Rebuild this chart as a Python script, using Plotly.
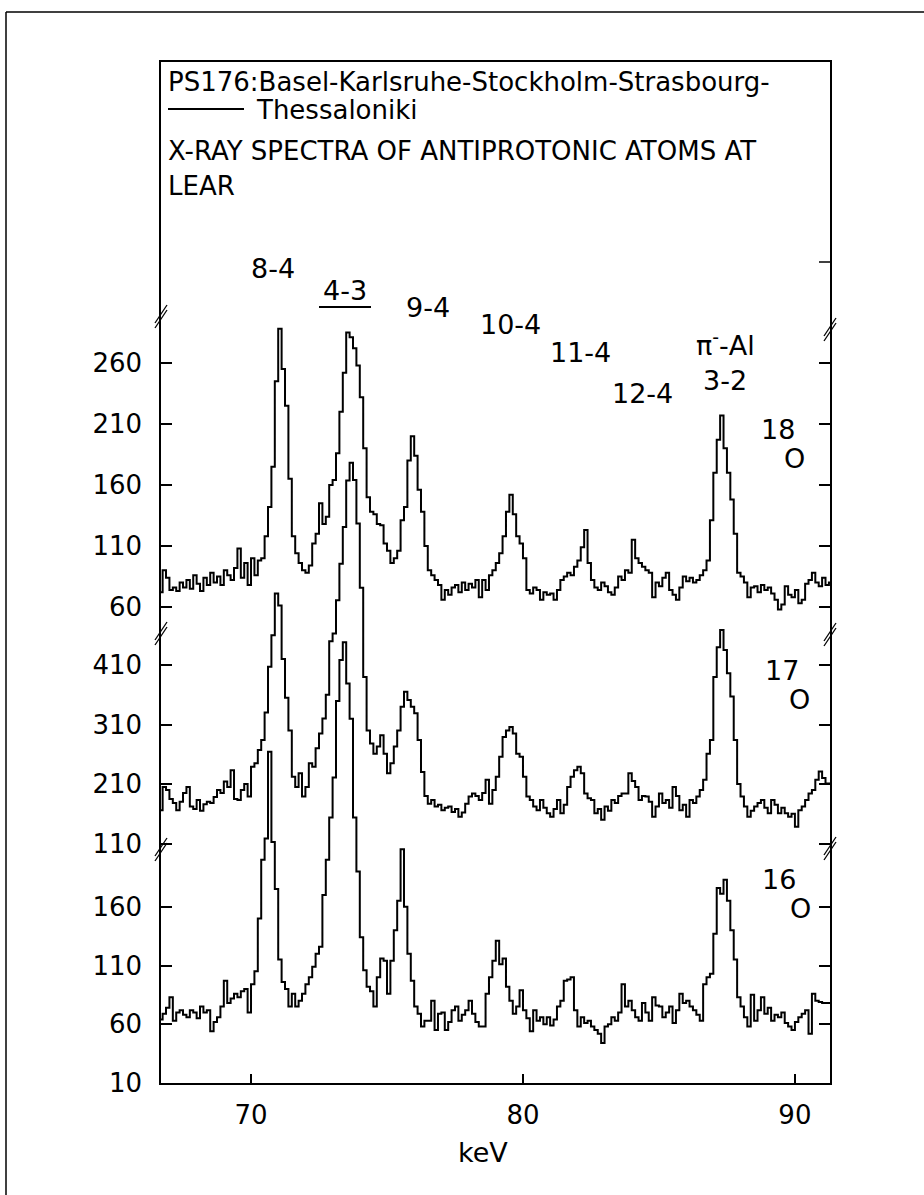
import numpy as np
import plotly.graph_objects as go

# ---------------- data ----------------
bin_start = 66.5      # keV, left edge of first channel
bin_width = 0.125     # keV

counts_18O = [
    78, 72, 90, 84, 74, 76, 73, 80,
    76, 82, 75, 86, 79, 73, 84, 78,
    88, 80, 85, 78, 90, 86, 82, 92,
    108, 84, 96, 78, 100, 86, 98, 100,
    118, 142, 175, 245, 288, 255, 225, 165,
    118, 104, 96, 90, 88, 94, 112, 120,
    145, 128, 134, 160, 164, 186, 220, 252,
    285, 281, 272, 258, 232, 190, 150, 138,
    136, 128, 127, 112, 106, 96, 100, 106,
    131, 142, 180, 200, 184, 156, 138, 110,
    90, 86, 82, 78, 66, 74, 70, 76,
    78, 72, 80, 74, 79, 76, 82, 68,
    82, 74, 86, 90, 96, 104, 118, 138,
    152, 136, 118, 112, 100, 74, 71, 76,
    74, 66, 72, 70, 71, 66, 74, 82,
    85, 88, 86, 93, 98, 109, 123, 96,
    82, 76, 74, 80, 77, 72, 70, 76,
    85, 82, 90, 88, 115, 100, 96, 93,
    90, 88, 68, 80, 77, 84, 88, 74,
    70, 66, 76, 85, 81, 84, 80, 82,
    86, 90, 98, 131, 170, 197, 217, 190,
    170, 148, 120, 88, 85, 80, 68, 76,
    77, 72, 78, 74, 76, 71, 66, 58,
    62, 77, 70, 68, 74, 63, 66, 79,
    82, 88, 80, 77, 84, 78, 80, 80,
]

counts_17O = [
    208, 166, 205, 200, 185, 178, 166, 180,
    195, 205, 172, 168, 183, 165, 176, 180,
    178, 188, 200, 195, 214, 205, 233, 185,
    183, 200, 210, 189, 239, 245, 267, 284,
    330, 407, 460, 530, 510, 420, 355, 300,
    222, 205, 228, 189, 205, 245, 239, 270,
    295, 320, 360, 450, 463, 519, 580, 642,
    720, 750, 721, 648, 540, 390, 300, 278,
    261, 273, 292, 261, 228, 245, 273, 300,
    340, 365, 351, 340, 329, 284, 230, 190,
    177, 183, 172, 175, 166, 170, 172, 163,
    168, 155, 162, 177, 189, 194, 190, 183,
    195, 217, 177, 200, 222, 256, 289, 300,
    306, 295, 261, 256, 222, 189, 183, 172,
    166, 183, 170, 161, 155, 168, 183, 161,
    175, 205, 222, 233, 239, 228, 194, 186,
    183, 161, 168, 150, 172, 165, 183, 178,
    190, 194, 194, 228, 215, 205, 183, 190,
    189, 180, 155, 172, 194, 178, 183, 170,
    205, 190, 166, 175, 155, 183, 178, 189,
    200, 217, 261, 284, 390, 440, 469, 435,
    396, 357, 284, 210, 189, 172, 155, 165,
    172, 178, 183, 170, 161, 183, 175, 161,
    170, 161, 155, 160, 138, 166, 172, 183,
    194, 200, 217, 231, 220, 211, 211, 211,
]

counts_16O = [
    70, 64, 69, 74, 83, 63, 70, 72,
    68, 66, 72, 70, 65, 75, 70, 72,
    54, 62, 66, 75, 97, 78, 82, 86,
    83, 88, 90, 70, 94, 105, 150, 200,
    218, 292, 215, 175, 115, 96, 90, 75,
    86, 75, 80, 86, 94, 100, 109, 120,
    126, 170, 200, 236, 270, 335, 370, 385,
    350, 320, 236, 190, 134, 106, 92, 88,
    75, 100, 116, 114, 86, 114, 140, 165,
    209, 160, 120, 97, 75, 69, 58, 63,
    63, 80, 55, 69, 70, 55, 62, 72,
    75, 63, 68, 72, 80, 69, 62, 58,
    58, 86, 100, 114, 131, 111, 116, 92,
    80, 69, 75, 89, 72, 65, 54, 72,
    63, 66, 60, 66, 59, 64, 75, 80,
    97, 98, 100, 72, 58, 66, 61, 63,
    58, 55, 52, 44, 58, 60, 66, 63,
    70, 94, 75, 80, 72, 66, 63, 78,
    70, 63, 83, 76, 75, 66, 70, 75,
    61, 72, 86, 78, 80, 75, 72, 68,
    63, 94, 100, 103, 137, 176, 171, 183,
    165, 140, 115, 83, 75, 66, 58, 85,
    63, 72, 83, 69, 74, 63, 68, 66,
    70, 61, 58, 55, 62, 66, 69, 72,
    52, 86, 80, 79, 78, 78, 78, 78,
]

x_ticks = [70, 80, 90]
y_ticks_18O = [60, 110, 160, 210, 260]
y_ticks_17O = [110, 210, 310, 410]
y_ticks_16O = [10, 60, 110, 160]

peak_labels = ["8-4", "4-3", "9-4", "10-4", "11-4", "12-4"]
title_lines = ["PS176:Basel-Karlsruhe-Stockholm-Strasbourg-",
               "Thessaloniki",
               "X-RAY SPECTRA OF ANTIPROTONIC ATOMS AT",
               "LEAR"]

# ---------------- layout geometry (pixels) ----------------
W, H = 924, 1195
L, R, T, B = 161, 830, 62, 1083


def px(x):
    return (x - L) / (R - L)


def py(y):
    return (B - y) / (B - T)


centers = bin_start + bin_width * (np.arange(len(counts_18O)) + 0.5)

FONT = "DejaVu Sans"
line_style = dict(color="black", width=2, shape="hvh")

fig = go.Figure()
fig.add_trace(go.Scatter(x=centers, y=counts_18O, mode="lines", line=line_style,
                         yaxis="y", name="18O", hoverinfo="skip"))
fig.add_trace(go.Scatter(x=centers, y=counts_17O, mode="lines", line=line_style,
                         yaxis="y2", name="17O", hoverinfo="skip"))
fig.add_trace(go.Scatter(x=centers, y=counts_16O, mode="lines", line=line_style,
                         yaxis="y3", name="16O", hoverinfo="skip"))

yax_common = dict(showgrid=False, zeroline=False, showline=True, linecolor="black",
                  linewidth=1.5, mirror="ticks", ticks="inside", ticklen=11,
                  tickwidth=1.5, tickcolor="black", side="left",
                  tickfont=dict(family=FONT, size=26, color="black"),
                  ticklabelstandoff=12, fixedrange=True)

fig.update_layout(
    width=W, height=H,
    margin=dict(l=L, r=W - R, t=T, b=H - B),
    paper_bgcolor="white", plot_bgcolor="white",
    showlegend=False,
    xaxis=dict(range=[66.69, 91.29], tickvals=x_ticks, ticks="inside", ticklen=9,
               tickwidth=1.5, tickcolor="black", showline=True, mirror=True,
               linecolor="black", linewidth=1.5, showgrid=False, zeroline=False,
               tickfont=dict(family=FONT, size=26, color="black"),
               ticklabelstandoff=8, fixedrange=True),
    yaxis=dict(range=[-330.2, 506.7], tickvals=y_ticks_18O, **yax_common),
    yaxis2=dict(range=[-292.5, 1423.4], tickvals=y_ticks_17O, overlaying="y",
                anchor="x", **yax_common),
    yaxis3=dict(range=[10, 878.9], tickvals=y_ticks_16O, overlaying="y",
                anchor="x", **yax_common),
)

ann = []


def text(s, x, y, size=27, xanchor="center"):
    ann.append(dict(text=s, x=px(x), y=py(y), xref="paper", yref="paper",
                    xanchor=xanchor, yanchor="middle", showarrow=False,
                    font=dict(family=FONT, size=size, color="black")))


# title block
text(title_lines[0], 166, 82, size=26, xanchor="left")
text(title_lines[1], 254, 110, size=26, xanchor="left")
text(title_lines[2], 166, 151, size=26, xanchor="left")
text(title_lines[3], 166, 186, size=26, xanchor="left")

# transition labels
text(peak_labels[0], 273, 268)
text(peak_labels[1], 345, 290)
text(peak_labels[2], 428, 308)
text(peak_labels[3], 510, 324)
text(peak_labels[4], 580, 352)
text(peak_labels[5], 642, 393)
text("π<sup>-</sup>-Al", 725, 343)
text("3-2", 725, 381)

# isotope labels
for lab, (xa, ya), (xb, yb) in [("18", (778, 429), (794, 458)),
                                ("17", (782, 670), (799, 699)),
                                ("16", (779, 879), (800, 908))]:
    text(lab, xa, ya)
    text("O", xb, yb)

# axis title
text("keV", 483, 1152, size=27)

fig.update_layout(annotations=ann)

shapes = []


def seg(x0, y0, x1, y1, w=1.8):
    shapes.append(dict(type="line", xref="paper", yref="paper",
                       x0=px(x0), y0=py(y0), x1=px(x1), y1=py(y1),
                       line=dict(color="black", width=w)))


# outer frame (top and left edges of the scanned page)
seg(6, 12, 935, 12, 1.5)
seg(6, 12, 6, 1210, 1.5)
# underlines
seg(168, 109, 244, 109, 2)
seg(319, 307, 371, 307, 2.2)
# lone tick on the right edge in the header area
seg(R - 11, 262, R, 262, 1.5)
# axis break marks
for cx, cy in [(L, 315), (L, 632), (L, 848), (R, 328), (R, 633), (R, 847)]:
    seg(cx - 6, cy + 8, cx + 6, cy - 10, 1.3)
    seg(cx - 6, cy + 13, cx + 6, cy - 5, 1.3)

fig.update_layout(shapes=shapes)

fig.write_html("out.html", config={"displayModeBar": False},
               post_script="document.body.style.margin='0px';")
